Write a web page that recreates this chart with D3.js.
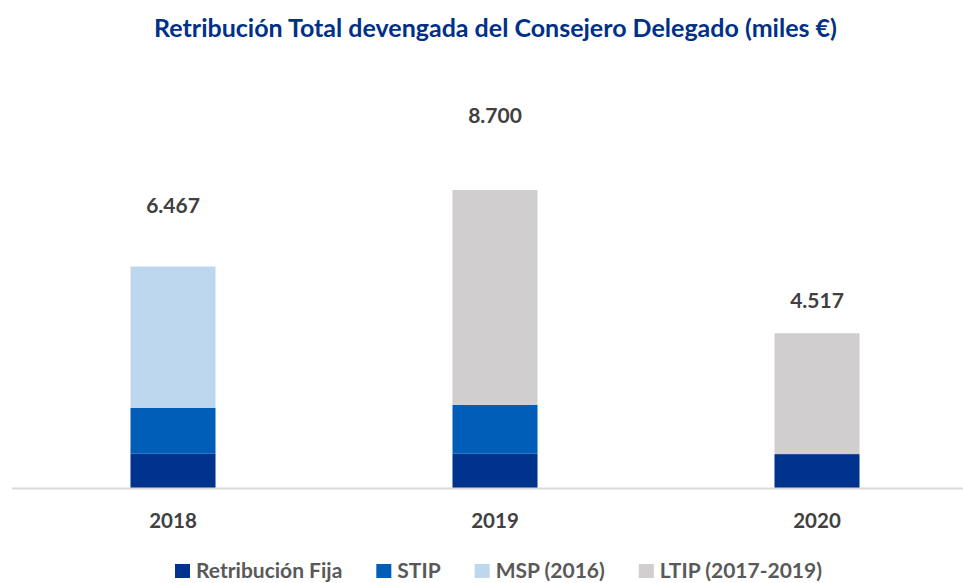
<!DOCTYPE html>
<html>
<head>
<meta charset="utf-8">
<script src="https://cdn.jsdelivr.net/npm/d3@7"></script>
<style>
  body { margin: 0; background: #fff; }
  svg { display: block; font-family: Lato, "Open Sans", sans-serif; }
</style>
</head>
<body>
<svg id="chart" width="963" height="583"></svg>
<script>
// Chart data (miles €)
const years = ["2018", "2019", "2020"];
const seriesNames = ["Retribución Fija", "STIP", "MSP (2016)", "LTIP (2017-2019)"];
const fija = [1000, 1000, 990];
const stip = [1343, 1430, 0];
const msp = [4124, 0, 0];
const ltip = [0, 6270, 3527];
// where the total label sits (value units)
const labelAt = [8260, 10890, 5490];
const colors = ["#00338d", "#005eb8", "#bdd7ee", "#d0cece"];

const svg = d3.select("#chart");
const W = 963;
const baseY = 488;

const rows = years.map((y, i) => ({
    year: y,
    "Retribución Fija": fija[i],
    "STIP": stip[i],
    "MSP (2016)": msp[i],
    "LTIP (2017-2019)": ltip[i]
}));

const stack = d3.stack().keys(seriesNames)(rows);

const x = d3.scaleBand()
    .domain(years)
    .range([12, 978])
    .paddingInner(0.736)
    .paddingOuter(0.368);

const y = d3.scaleLinear()
    .domain([0, 10000])
    .range([baseY, baseY - 342.5]);

// Title
svg.append("text")
    .attr("x", W / 2 + 14)
    .attr("y", 37)
    .attr("text-anchor", "middle")
    .attr("font-size", 25)
    .attr("font-weight", "bold")
    .attr("fill", "#003087")
    .text("Retribución Total devengada del Consejero Delegado (miles €)");

// Bars
svg.append("g")
    .selectAll("g")
    .data(stack)
    .join("g")
    .attr("fill", (d, i) => colors[i])
    .selectAll("rect")
    .data(d => d.filter(p => p[1] - p[0] > 0))
    .join("rect")
    .attr("x", d => x(d.data.year))
    .attr("y", d => y(d[1]))
    .attr("width", x.bandwidth())
    .attr("height", d => y(d[0]) - y(d[1]));

// Baseline
svg.append("line")
    .attr("x1", 12).attr("x2", W)
    .attr("y1", baseY + 0.5).attr("y2", baseY + 0.5)
    .attr("stroke", "#d9d9d9")
    .attr("stroke-width", 2);

// Totals
const fmt = v => d3.format(",")(v).replace(/,/g, ".");
svg.append("g")
    .selectAll("text")
    .data(rows)
    .join("text")
    .attr("x", d => x(d.year) + x.bandwidth() / 2)
    .attr("y", (d, i) => y(labelAt[i]) + 8)
    .attr("text-anchor", "middle")
    .attr("font-size", 21)
    .attr("font-weight", "bold")
    .attr("fill", "#404040")
    .text(d => fmt(d3.sum(seriesNames, k => d[k])));

// Category labels
svg.append("g")
    .selectAll("text")
    .data(years)
    .join("text")
    .attr("x", d => x(d) + x.bandwidth() / 2)
    .attr("y", 528)
    .attr("text-anchor", "middle")
    .attr("font-size", 20.5)
    .attr("font-weight", "bold")
    .attr("fill", "#404040")
    .text(d => d);

// Legend
const legend = svg.append("g");
const items = legend.selectAll("g")
    .data(seriesNames)
    .join("g");
items.append("rect")
    .attr("width", 15).attr("height", 14)
    .attr("y", -14)
    .attr("fill", (d, i) => colors[i]);
items.append("text")
    .attr("x", 21)
    .attr("font-size", 21)
    .attr("font-weight", "bold")
    .attr("fill", "#595959")
    .text(d => d);

const gap = 34;
const widths = [];
items.each(function () { widths.push(this.getBBox().width); });
const totalW = d3.sum(widths) + gap * (widths.length - 1);
let pos = (W - totalW) / 2 + 17;
items.each(function (d, i) {
    d3.select(this).attr("transform", `translate(${pos},578)`);
    pos += widths[i] + gap;
});
</script>
</body>
</html>
